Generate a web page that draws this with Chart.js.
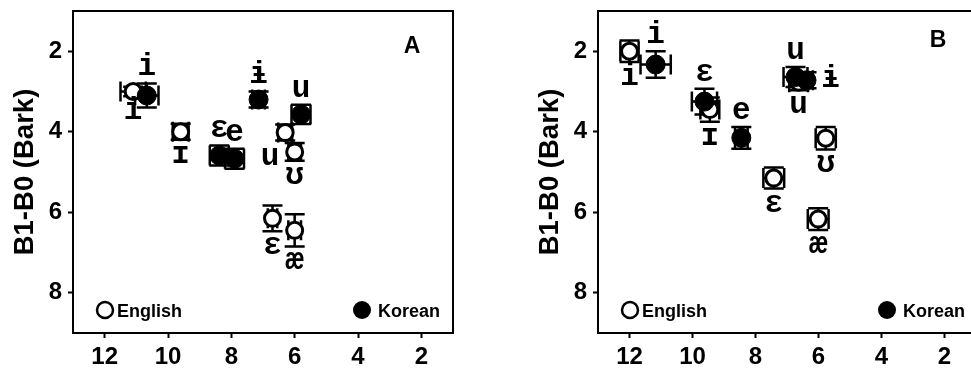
<!DOCTYPE html>
<html>
<head>
<meta charset="utf-8">
<script src="https://cdn.jsdelivr.net/npm/chart.js@4.4.0/dist/chart.umd.min.js"></script>
<style>
  html, body { margin: 0; padding: 0; background: #fff; overflow: hidden; width: 971px; height: 369px; }
  .wrap { position: absolute; top: 0; width: 480px; height: 369px; }
</style>
</head>
<body>
<div class="wrap" style="left:0px"><canvas id="chartA" width="480" height="369"></canvas></div>
<div class="wrap" style="left:525px"><canvas id="chartB" width="480" height="369"></canvas></div>
<script>
// axis ticks
const xTicks = [12, 10, 8, 6, 4, 2];
const yTicks = [2, 4, 6, 8];

// panel A - English
const aEngLabels = ['i', 'ɪ', 'u', 'ʊ', 'ɛ', 'æ'];
const aEngX = [11.1, 9.6, 6.3, 6.0, 6.7, 6.0];
const aEngY = [3.0, 4.0, 4.02, 4.5, 6.15, 6.45];
const aEngXErr = [0.4, 0.25, 0.22, 0.2, 0.15, 0.2];
const aEngYErr = [0.12, 0.2, 0.2, 0.22, 0.32, 0.4];
const aEngSide = ['below', 'below', 'belowleft', 'below', 'below', 'below'];

// panel A - Korean
const aKorLabels = ['i', 'ɨ', 'u', 'ɛ', 'e'];
const aKorX = [10.67, 7.14, 5.8, 8.38, 7.9];
const aKorY = [3.1, 3.2, 3.57, 4.59, 4.67];
const aKorXErr = [0.37, 0.2, 0.3, 0.3, 0.3];
const aKorYErr = [0.3, 0.2, 0.24, 0.25, 0.25];
const aKorSide = ['above', 'above', 'above', 'above', 'above'];

// panel B - English
const bEngLabels = ['i', 'ɪ', 'u', 'ʊ', 'ɛ', 'æ'];
const bEngX = [12.0, 9.45, 6.63, 5.77, 7.42, 6.01];
const bEngY = [2.0, 3.45, 2.77, 4.16, 5.15, 6.17];
const bEngXErr = [0.29, 0.3, 0.3, 0.32, 0.33, 0.33];
const bEngYErr = [0.27, 0.3, 0.2, 0.28, 0.26, 0.27];
const bEngSide = ['below', 'below', 'below', 'below', 'below', 'below'];

// panel B - Korean
const bKorLabels = ['i', 'ɛ', 'e', 'u', 'ɨ'];
const bKorX = [11.17, 9.62, 8.45, 6.73, 6.38];
const bKorY = [2.33, 3.25, 4.15, 2.64, 2.72];
const bKorXErr = [0.48, 0.4, 0.2, 0.38, 0.2];
const bKorYErr = [0.33, 0.32, 0.27, 0.25, 0.2];
const bKorSide = ['above', 'above', 'above', 'above', 'right'];

const SANS = '"Liberation Sans", Arial, sans-serif';
const MONO = '"Liberation Mono", "DejaVu Sans Mono", monospace';

function points(labels, xs, ys, xe, ye, side) {
  return xs.map((x, i) => ({ x: x, y: ys[i], xErr: xe[i], yErr: ye[i], label: labels[i], side: side[i] }));
}

// error bars under the markers
const errorBars = {
  id: 'errorBars',
  beforeDatasetsDraw(chart) {
    const ctx = chart.ctx, xs = chart.scales.x, ys = chart.scales.y;
    const cap = 10;
    ctx.save();
    ctx.strokeStyle = '#000';
    ctx.lineWidth = 2.5;
    chart.data.datasets.forEach(ds => {
      ds.data.forEach(p => {
        const cx = xs.getPixelForValue(p.x), cy = ys.getPixelForValue(p.y);
        const x1 = xs.getPixelForValue(p.x - p.xErr), x2 = xs.getPixelForValue(p.x + p.xErr);
        const y1 = ys.getPixelForValue(p.y - p.yErr), y2 = ys.getPixelForValue(p.y + p.yErr);
        ctx.beginPath();
        ctx.moveTo(x1, cy); ctx.lineTo(x2, cy);
        ctx.moveTo(cx, y1); ctx.lineTo(cx, y2);
        ctx.moveTo(x1, cy - cap); ctx.lineTo(x1, cy + cap);
        ctx.moveTo(x2, cy - cap); ctx.lineTo(x2, cy + cap);
        ctx.moveTo(cx - cap, y1); ctx.lineTo(cx + cap, y1);
        ctx.moveTo(cx - cap, y2); ctx.lineTo(cx + cap, y2);
        ctx.stroke();
      });
    });
    ctx.restore();
  }
};

// vowel labels, frame, legend and panel letter
const decorations = {
  id: 'decorations',
  afterDatasetsDraw(chart, args, opts) {
    const ctx = chart.ctx, xs = chart.scales.x, ys = chart.scales.y;
    const area = chart.chartArea;
    ctx.save();
    ctx.fillStyle = '#000';
    ctx.font = 'bold 31px ' + MONO;
    ctx.textAlign = 'center';
    ctx.textBaseline = 'alphabetic';
    chart.data.datasets.forEach(ds => {
      ds.data.forEach(p => {
        const cx = xs.getPixelForValue(p.x), cy = ys.getPixelForValue(p.y);
        const ey = Math.abs(ys.getPixelForValue(p.y + p.yErr) - cy);
        let tx = cx, ty = cy;
        if (p.side === 'above') ty = cy - (Math.max(ey, 9) + 8);
        else if (p.side === 'below') ty = cy + ey + 23;
        else if (p.side === 'belowleft') { tx = cx - 15; ty = cy + 32; }
        else if (p.side === 'right') { tx = cx + 24; ty = cy + 7; }
        ctx.fillText(p.label, tx, ty);
      });
    });

    // frame
    ctx.strokeStyle = '#000';
    ctx.lineWidth = 2;
    ctx.strokeRect(area.left, area.top, area.right - area.left, area.bottom - area.top);

    // legend
    const ly = area.bottom - 23;
    ctx.lineWidth = 2.5;
    ctx.beginPath();
    ctx.arc(area.left + 32, ly, 8, 0, Math.PI * 2);
    ctx.fillStyle = '#fff';
    ctx.fill();
    ctx.stroke();
    ctx.fillStyle = '#000';
    ctx.beginPath();
    ctx.arc(area.left + 289, ly, 9, 0, Math.PI * 2);
    ctx.fill();
    ctx.font = 'bold 18px ' + SANS;
    ctx.textAlign = 'left';
    ctx.fillText('English', area.left + 44, ly + 7);
    ctx.fillText('Korean', area.left + 305, ly + 7);

    // panel letter
    ctx.font = 'bold 23px ' + SANS;
    ctx.textAlign = 'center';
    ctx.textBaseline = 'middle';
    ctx.fillText(opts.letter, area.right - opts.letterDx, area.top + opts.letterDy);
    ctx.restore();
  }
};

function makePanel(id, eng, kor, letter, letterDx, letterDy, padTop, padRight) {
  return new Chart(document.getElementById(id), {
    type: 'scatter',
    data: {
      datasets: [
        {
          label: 'English',
          data: eng,
          order: 1,
          pointRadius: 8,
          pointBorderWidth: 3,
          pointBorderColor: '#000',
          pointBackgroundColor: '#fff'
        },
        {
          label: 'Korean',
          data: kor,
          order: 0,
          pointRadius: 9.5,
          pointBorderWidth: 1,
          pointBorderColor: '#000',
          pointBackgroundColor: '#000'
        }
      ]
    },
    plugins: [errorBars, decorations],
    options: {
      responsive: false,
      animation: false,
      layout: { padding: { top: padTop, right: padRight, left: 0, bottom: 0 } },
      plugins: {
        legend: { display: false },
        tooltip: { enabled: false },
        decorations: { letter: letter, letterDx: letterDx, letterDy: letterDy }
      },
      scales: {
        x: {
          type: 'linear',
          min: 1,
          max: 13,
          reverse: true,
          afterBuildTicks: s => { s.ticks = xTicks.map(v => ({ value: v })); },
          afterFit: s => { s.height = 36; s.paddingLeft = 0; s.paddingRight = 0; },
          border: { display: false },
          grid: { drawOnChartArea: false, drawTicks: true, tickLength: 5, tickWidth: 2, tickColor: '#000' },
          ticks: { color: '#000', padding: 5, maxRotation: 0, autoSkip: false, font: { family: SANS, size: 24, weight: 'bold' } }
        },
        y: {
          type: 'linear',
          min: 1,
          max: 9,
          reverse: true,
          afterBuildTicks: s => { s.ticks = yTicks.map(v => ({ value: v })); },
          afterFit: s => { s.width = 73; s.paddingTop = 0; s.paddingBottom = 0; },
          border: { display: false },
          grid: { drawOnChartArea: false, drawTicks: true, tickLength: 5, tickWidth: 2, tickColor: '#000' },
          ticks: { color: '#000', padding: 6, autoSkip: false, font: { family: SANS, size: 24, weight: 'bold' } },
          title: {
            display: true,
            text: 'B1-B0 (Bark)',
            color: '#000',
            padding: { top: 9, bottom: 0 },
            font: { family: SANS, size: 27.5, weight: 'bold' }
          }
        }
      }
    }
  });
}

makePanel('chartA',
  points(aEngLabels, aEngX, aEngY, aEngXErr, aEngYErr, aEngSide),
  points(aKorLabels, aKorX, aKorY, aKorXErr, aKorYErr, aKorSide),
  'A', 41, 36, 9, 27);
makePanel('chartB',
  points(bEngLabels, bEngX, bEngY, bEngXErr, bEngYErr, bEngSide),
  points(bKorLabels, bKorX, bKorY, bKorXErr, bKorYErr, bKorSide),
  'B', 38, 30, 8, 29);
</script>
</body>
</html>
